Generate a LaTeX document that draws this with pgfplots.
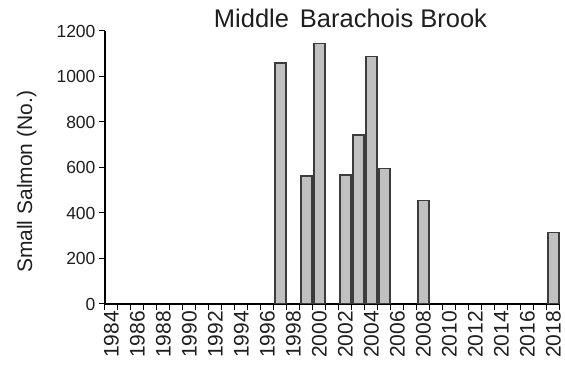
\documentclass[border=0pt]{standalone}
\usepackage{fontspec}
\setmainfont{Liberation Sans}
\usepackage{pgfplots}
\usepackage{pgfplotstable}
\pgfplotsset{compat=1.18}

\definecolor{barfill}{RGB}{192,192,192}
\definecolor{baredge}{RGB}{60,60,60}
\definecolor{txt}{RGB}{30,30,30}

% Small salmon counts; idx = year - 1984
\pgfplotstableread{
idx year count
13 1997 1060
15 1999 563
16 2000 1145
18 2002 567
19 2003 744
20 2004 1088
21 2005 596
24 2008 455
34 2018 315
}\salmon

\begin{document}
\begin{tikzpicture}
\begin{axis}[
  scale only axis,
  width=455pt, height=273pt,
  xmin=-0.5, xmax=34.5,
  ymin=0, ymax=1200,
  axis lines*=left,
  axis line style={black, line width=1.1pt},
  tick align=outside,
  tick style={black, line width=1pt},
  major tick length=6pt,
  minor tick length=6pt,
  xtick={0,2,...,34},
  xticklabels={1984,1986,1988,1990,1992,1994,1996,1998,2000,2002,2004,2006,2008,2010,2012,2014,2016,2018},
  major x tick style={draw=none},
  minor xtick={-0.5,0.5,...,34.5},
  xticklabel style={rotate=90, anchor=east, font=\fontsize{21}{23}\selectfont, text=txt, inner sep=1pt},
  ytick={0,200,...,1200},
  yticklabel style={font=\fontsize{17.5}{20}\selectfont, text=txt},
  /pgf/number format/assume math mode=true,
  /pgf/number format/1000 sep={},
  ylabel={Small Salmon (No.)},
  ylabel style={at={(axis description cs:-0.172,0.447)}, anchor=center, font=\fontsize{21}{24}\selectfont, text=txt},
  title={Middle\hspace{0.15em} Barachois Brook},
  title style={at={(axis description cs:0.5,1)}, anchor=base, yshift=-3pt, xshift=18pt, font=\fontsize{25.5}{28}\selectfont, text=txt},
  ybar, bar width=11pt,
]
\addplot[fill=barfill, draw=baredge, line width=1.6pt] table[x=idx, y=count] {\salmon};
\end{axis}
\path (current axis.south west) ++(-105pt,-65pt) rectangle ++(565pt,369pt);
\end{tikzpicture}
\end{document}
